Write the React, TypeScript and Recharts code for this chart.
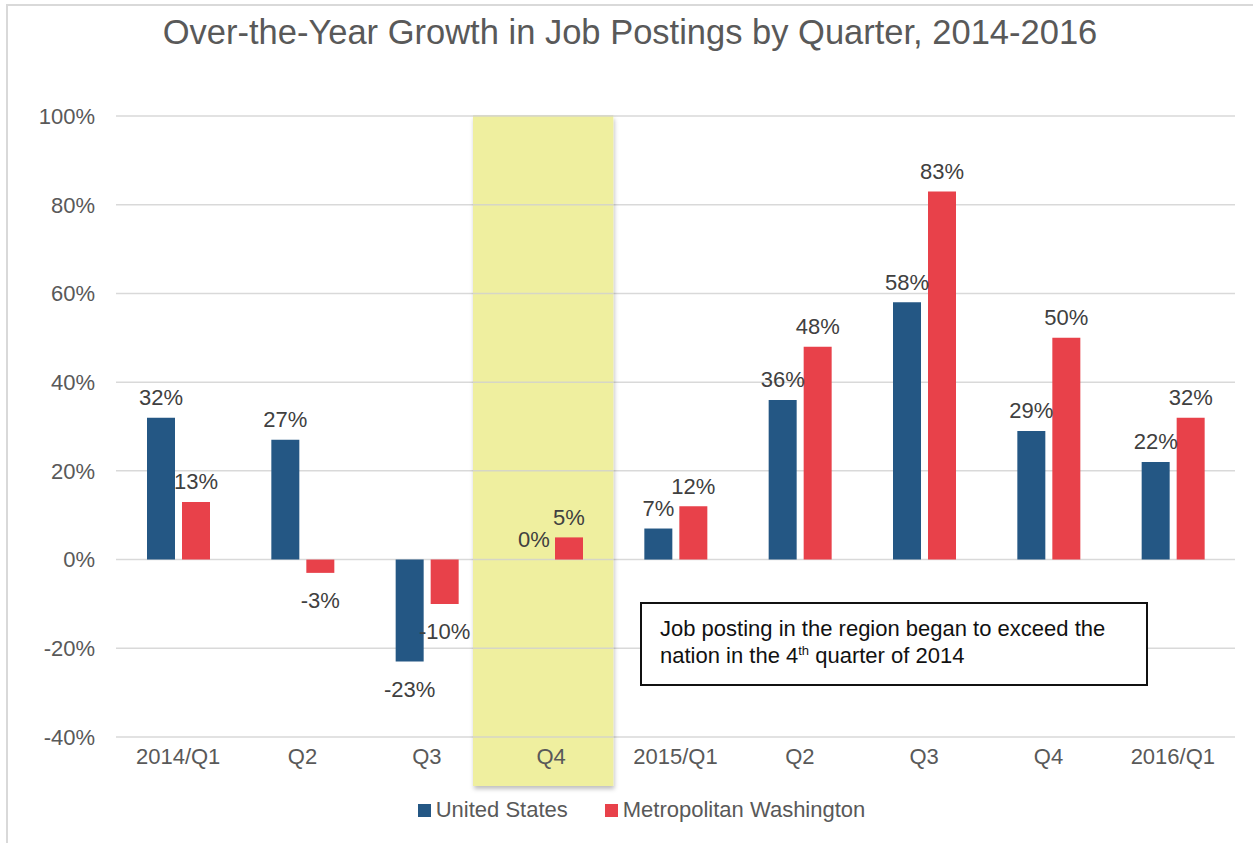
import React from "react";
import { BarChart, Bar, XAxis, YAxis, CartesianGrid, Legend, LabelList, ReferenceArea } from "recharts";

const quarters = ["2014/Q1", "2014/Q2", "2014/Q3", "2014/Q4", "2015/Q1", "2015/Q2", "2015/Q3", "2015/Q4", "2016/Q1"];
const tickLabels = ["2014/Q1", "Q2", "Q3", "Q4", "2015/Q1", "Q2", "Q3", "Q4", "2016/Q1"];
const unitedStates = [32, 27, -23, 0, 7, 36, 58, 29, 22];
const metroWashington = [13, -3, -10, 5, 12, 48, 83, 50, 32];
const seriesNames = ["United States", "Metropolitan Washington"];
const yTicks = [-40, -20, 0, 20, 40, 60, 80, 100];
const highlighted = "2014/Q4";

const data = quarters.map((q, i) => ({
    quarter: q,
    us: unitedStates[i],
    metro: metroWashington[i]
}));

const font = "'Liberation Sans', Arial, sans-serif";
const BLUE = "#245784";
const RED = "#E8414A";
const GRID = "#d9d9d9";
const yMin = yTicks[0];
const yMax = yTicks[yTicks.length - 1];

function ValueLabel(props: any) {
    const { x, y, width, height, value } = props;
    const top = Math.min(y, y + height);
    const bottom = Math.max(y, y + height);
    const cx = x + width / 2;
    const cy = value < 0 ? bottom + 28 : top - 20;
    return (
        <text x={cx} y={cy} textAnchor="middle" dominantBaseline="central" fill="#404040" fontSize={22} fontFamily={font}>
            {value}%
        </text>
    );
}

// highlight band, with the gridlines drawn again on top of it
function HighlightShape(props: any) {
    const { x, y, width, height } = props;
    return (
        <g>
            <defs>
                <filter id="bandShadow" x="-20%" y="-5%" width="140%" height="115%">
                    <feDropShadow dx="1" dy="3" stdDeviation="2" floodColor="#000" floodOpacity="0.25" />
                </filter>
            </defs>
            <rect x={x - 16} y={y} width={width + 16} height={height + 49} fill="#EFEF9F" filter="url(#bandShadow)" />
            {yTicks.map((t) => {
                const ty = y + (height * (yMax - t)) / (yMax - yMin);
                return <line key={t} x1={x - 16} x2={x + width} y1={ty} y2={ty} stroke="#d6d6c6" strokeWidth={1.5} />;
            })}
        </g>
    );
}

function LegendContent(props: any) {
    const payload = [...(props.payload || [])].sort(
        (a: any, b: any) => seriesNames.indexOf(a.value) - seriesNames.indexOf(b.value)
    );
    return (
        <div style={{ display: "flex", justifyContent: "center", gap: 37, fontFamily: font, fontSize: 22, color: "#595959", paddingLeft: 30 }}>
            {payload.map((p: any) => (
                <div key={p.value} style={{ display: "flex", alignItems: "center", gap: 5 }}>
                    <span style={{ width: 13, height: 13, background: p.color, display: "inline-block" }} />
                    <span>{p.value}</span>
                </div>
            ))}
        </div>
    );
}

export default function App() {
    return (
        <div style={{ position: "fixed", left: 0, top: 0, width: 1253, height: 843, background: "#fff", overflow: "hidden" }}>
            <div style={{ position: "absolute", left: 6, top: 4, right: 0, bottom: 0, borderLeft: "2px solid #d9d9d9", borderTop: "2px solid #d9d9d9" }} />
            <div
                style={{
                    position: "absolute",
                    top: 13,
                    left: 0,
                    width: 1260,
                    textAlign: "center",
                    fontFamily: font,
                    fontSize: 34.5,
                    color: "#595959",
                    whiteSpace: "nowrap"
                }}
            >
                Over-the-Year Growth in Job Postings by Quarter, 2014-2016
            </div>
            <BarChart
                width={1253}
                height={843}
                data={data}
                barSize={28}
                barGap={7}
                margin={{ top: 116, right: 18, left: 16, bottom: 76 }}
                style={{ position: "absolute", left: 0, top: 0 }}
            >
                <CartesianGrid vertical={false} stroke={GRID} strokeWidth={1.5} />
                <ReferenceArea x1={highlighted} x2={highlighted} y1={yMin} y2={yMax} shape={<HighlightShape />} ifOverflow="visible" />
                <XAxis
                    dataKey="quarter"
                    axisLine={false}
                    tickLine={false}
                    tickSize={0}
                    tickMargin={11}
                    height={30}
                    interval={0}
                    tickFormatter={(_v: any, i: number) => tickLabels[i]}
                    tick={{ fill: "#595959", fontSize: 22, fontFamily: font }}
                />
                <YAxis
                    domain={[yMin, yMax]}
                    ticks={yTicks}
                    axisLine={false}
                    tickLine={false}
                    tickSize={0}
                    tickMargin={21}
                    width={100}
                    tickFormatter={(v: number) => `${v}%`}
                    tick={{ fill: "#595959", fontSize: 22, fontFamily: font }}
                />
                <Legend
                    layout="horizontal"
                    verticalAlign="middle"
                    align="center"
                    wrapperStyle={{ top: 797, left: 0, width: 1253 }}
                    content={<LegendContent />}
                />
                <Bar dataKey="us" name={seriesNames[0]} fill={BLUE} minPointSize={0.01} isAnimationActive={false}>
                    <LabelList dataKey="us" content={<ValueLabel />} />
                </Bar>
                <Bar dataKey="metro" name={seriesNames[1]} fill={RED} isAnimationActive={false}>
                    <LabelList dataKey="metro" content={<ValueLabel />} />
                </Bar>
            </BarChart>
            <div
                style={{
                    position: "absolute",
                    left: 640,
                    top: 602,
                    width: 504,
                    height: 80,
                    border: "2px solid #111",
                    background: "#fff",
                    boxSizing: "content-box",
                    fontFamily: font,
                    fontSize: 22,
                    lineHeight: "27px",
                    color: "#111"
                }}
            >
                <div style={{ padding: "11px 0 0 18px" }}>
                    Job posting in the region began to exceed the
                    <br />
                    nation in the 4<sup style={{ fontSize: 13, lineHeight: 0, verticalAlign: "super" }}>th</sup> quarter of 2014
                </div>
            </div>
        </div>
    );
}
